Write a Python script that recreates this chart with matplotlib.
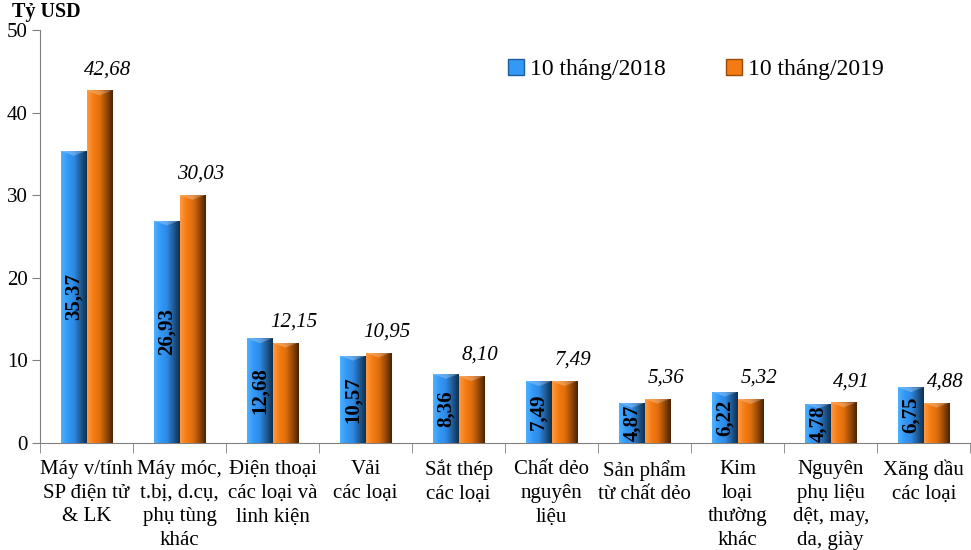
import numpy as np
import matplotlib.pyplot as plt
from matplotlib.colors import LinearSegmentedColormap
from matplotlib.lines import Line2D

plt.rcParams['font.family'] = ['Liberation Serif', 'DejaVu Serif']

# data
categories = ["Máy v/tính\nSP điện tử\n& LK",
              "Máy móc,\nt.bị, d.cụ,\nphụ tùng\nkhác",
              "Điện thoại\ncác loại và\nlinh kiện",
              "Vải\ncác loại",
              "Sắt thép\ncác loại",
              "Chất dẻo\nnguyên\nliệu",
              "Sản phẩm\ntừ chất dẻo",
              "Kim\nloại\nthường\nkhác",
              "Nguyên\nphụ liệu\ndệt, may,\nda, giày",
              "Xăng dầu\ncác loại"]
v2018 = [35.37, 26.93, 12.68, 10.57, 8.36, 7.49, 4.87, 6.22, 4.78, 6.75]
v2019 = [42.68, 30.03, 12.15, 10.95, 8.10, 7.49, 5.36, 5.32, 4.91, 4.88]
series = ["10 tháng/2018", "10 tháng/2019"]

blue_cm = LinearSegmentedColormap.from_list('b', ['#4FB0FF', '#3399F5', '#2E8AE6', '#1F5C99', '#10304F'])
orange_cm = LinearSegmentedColormap.from_list('o', ['#FF9A40', '#F47B14', '#E06E0C', '#9A4A06', '#4A2200'])

fig = plt.figure(figsize=(9.71, 5.5), dpi=100)
ax = fig.add_axes([0.0412, 0.1945, 0.958, 0.751])

x = np.arange(len(categories))
w = 0.275
b1 = ax.bar(x - w / 2, v2018, w, color='#3399F5', zorder=2)
b2 = ax.bar(x + w / 2, v2019, w, color='#F47B14', zorder=2)

# shaded 3D look: horizontal gradient clipped to each bar
grad = np.linspace(0, 1, 64).reshape(1, -1)
for bars, cm in ((b1, blue_cm), (b2, orange_cm)):
    for r in bars:
        x0, y0, bw, bh = r.get_x(), r.get_y(), r.get_width(), r.get_height()
        im = ax.imshow(grad, cmap=cm, extent=[x0, x0 + bw, y0, y0 + bh],
                       aspect='auto', zorder=3, interpolation='bicubic')
        im.set_clip_path(r)
        # top bevel
        tip = min(0.6, bh * 0.3)
        ax.fill([x0, x0 + bw, x0 + bw * 0.5], [y0 + bh, y0 + bh, y0 + bh - tip],
                color='white', alpha=0.25, lw=0, zorder=4)

ax.set_xlim(-0.5, len(categories) - 0.5)
ax.set_ylim(0, 50)

# value labels
for r, v in zip(b1, v2018):
    ax.text(r.get_x() + r.get_width() / 2, v / 2, f"{v:.2f}".replace('.', ','),
            rotation=90, ha='center', va='center', fontsize=15,
            fontweight='bold', zorder=5)
for r, v in zip(b2, v2019):
    ax.annotate(f"{v:.2f}".replace('.', ','), (r.get_x() + r.get_width() / 2, v),
                xytext=(6, 8), textcoords='offset points', ha='center', va='bottom',
                fontsize=15, style='italic', zorder=5)

# axes styling
for s in ('top', 'right'):
    ax.spines[s].set_visible(False)
for s in ('left', 'bottom'):
    ax.spines[s].set_color('#808080')
ax.set_yticks(range(0, 51, 10))
ax.tick_params(axis='y', labelsize=15, color='#808080', length=6, pad=3)
ax.set_xticks(x)
ax.set_xticklabels(categories, fontsize=15, linespacing=1.35, va='top')
ax.set_xticks(np.arange(-0.5, len(categories)), minor=True)
ax.tick_params(axis='x', which='major', length=0, pad=12)
ax.tick_params(axis='x', which='minor', length=7, color='#808080')

fig.text(0.012, 0.997, "Tỷ USD", fontsize=14.5, fontweight='bold', ha='left', va='top')

handles = [Line2D([], [], marker='s', ls='', markersize=11, markerfacecolor='#3399F5',
                  markeredgecolor='#1F5C99'),
           Line2D([], [], marker='s', ls='', markersize=11, markerfacecolor='#F47B14',
                  markeredgecolor='#9A4A06')]
ax.legend(handles, series, ncol=2, frameon=False, fontsize=17, loc='center',
          bbox_to_anchor=(0.703, 0.904), handletextpad=0.1, columnspacing=2.4,
          handlelength=1.0)

fig.savefig('out.png', dpi=100)
